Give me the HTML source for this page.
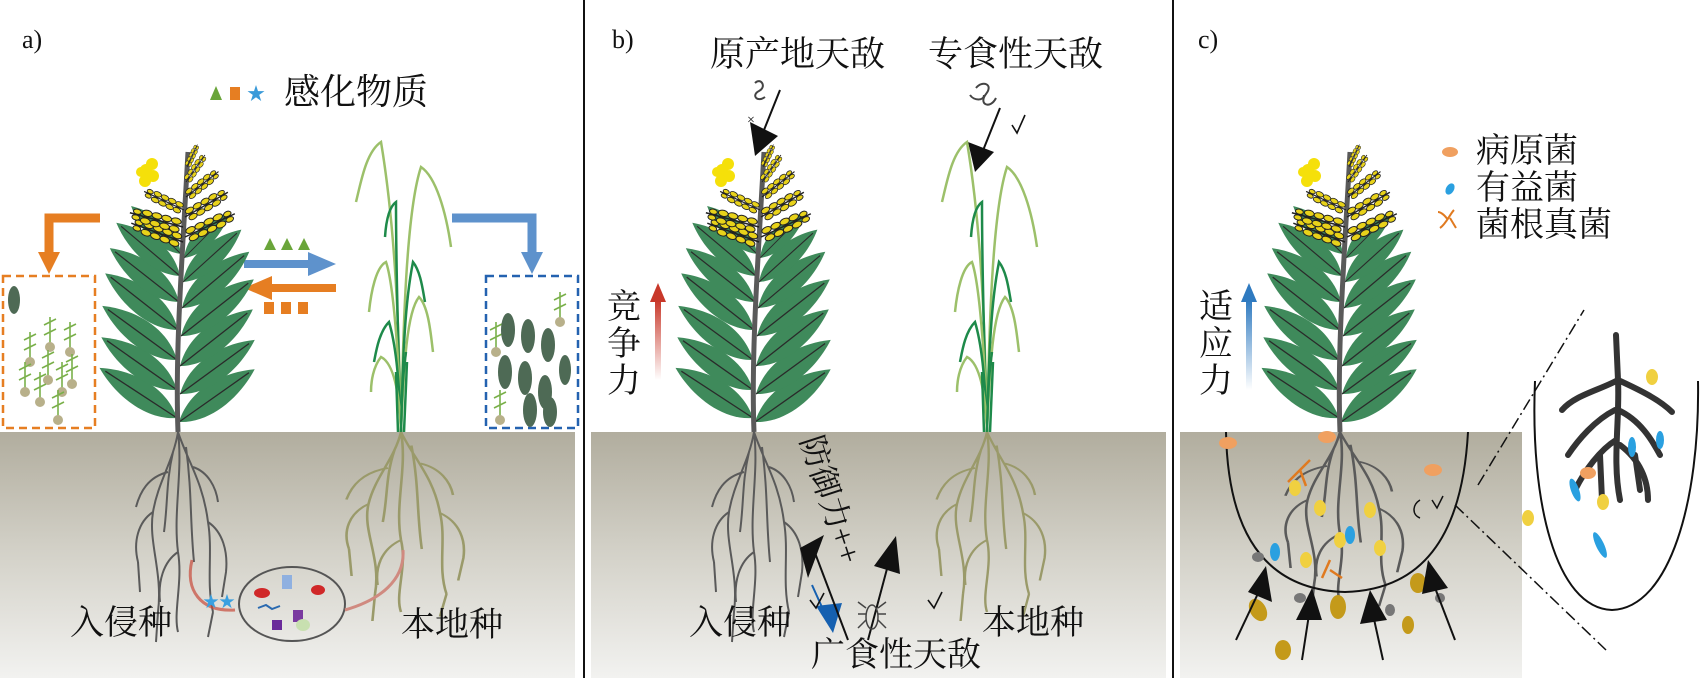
<!DOCTYPE html>
<html><head><meta charset="utf-8"><style>
html,body{margin:0;padding:0;background:#fff}
svg{display:block}
text{font-family:"Liberation Serif","Noto Serif CJK SC","Noto Sans CJK SC",serif;fill:#111}
</style></head><body>
<svg width="1701" height="678" viewBox="0 0 1701 678" xmlns="http://www.w3.org/2000/svg">
<defs>
<linearGradient id="soil" x1="0" y1="0" x2="0" y2="1">
<stop offset="0" stop-color="#b1ad9e"/><stop offset="0.5" stop-color="#d4d2c9"/><stop offset="1" stop-color="#f2f2f0"/>
</linearGradient>
<linearGradient id="red" x1="0" y1="1" x2="0" y2="0"><stop offset="0" stop-color="#fff"/><stop offset="1" stop-color="#c8382a"/></linearGradient>
<linearGradient id="blue" x1="0" y1="1" x2="0" y2="0"><stop offset="0" stop-color="#fff"/><stop offset="1" stop-color="#2f7ac0"/></linearGradient>
<g id="leafR"><path d="M0,0 C12,-30 45,-46 80,-46 C62,-18 30,4 0,0Z" fill="#3f8a5b"/><path d="M0,0 L74,-43" stroke="#2a2a2a" stroke-width="1.3"/></g>
<g id="spike"><path d="M0,0 L-55,0" stroke="#222" stroke-width="1.5"/>
<g fill="#e8d21a" stroke="#222" stroke-width="1"><ellipse cx="-8" cy="-4" rx="5" ry="3"/><ellipse cx="-18" cy="-4" rx="5" ry="3"/><ellipse cx="-28" cy="-4" rx="5" ry="3"/><ellipse cx="-38" cy="-4" rx="5" ry="3"/><ellipse cx="-48" cy="-3" rx="4" ry="2.5"/><ellipse cx="-8" cy="4" rx="5" ry="3"/><ellipse cx="-18" cy="4" rx="5" ry="3"/><ellipse cx="-28" cy="4" rx="5" ry="3"/><ellipse cx="-38" cy="4" rx="5" ry="3"/><ellipse cx="-48" cy="3" rx="4" ry="2.5"/></g></g>
<g id="gold">
<use href="#leafR" transform="translate(1,-10) rotate(-5)"/>
<use href="#leafR" transform="translate(-1,-14) scale(-1,1) rotate(-3)"/>
<use href="#leafR" transform="translate(2,-38) rotate(-6)"/>
<use href="#leafR" transform="translate(-1,-42) scale(-1,1) rotate(-5)"/>
<use href="#leafR" transform="translate(2,-66) rotate(-8)"/>
<use href="#leafR" transform="translate(-1,-72) scale(-1,1) rotate(-6)"/>
<use href="#leafR" transform="translate(3,-96) rotate(-8)"/>
<use href="#leafR" transform="translate(0,-102) scale(-1,1) rotate(-8)"/>
<use href="#leafR" transform="translate(4,-124) rotate(-10) scale(.95)"/>
<use href="#leafR" transform="translate(1,-130) scale(-.95,.95) rotate(-8)"/>
<use href="#leafR" transform="translate(5,-150) rotate(-12) scale(.85)"/>
<use href="#leafR" transform="translate(2,-156) scale(-.9,.9) rotate(-10)"/>
<use href="#leafR" transform="translate(6,-174) rotate(-15) scale(.7)"/>
<use href="#leafR" transform="translate(3,-178) scale(-.75,.75) rotate(-14)"/>
<path d="M0,0 C-3,-80 4,-170 10,-280" stroke="#5a5a5a" stroke-width="5" fill="none"/>
<use href="#spike" transform="translate(5,-190) rotate(20)"/>
<use href="#spike" transform="translate(5,-205) rotate(15)"/>
<use href="#spike" transform="translate(6,-222) rotate(25) scale(.8)"/>
<use href="#spike" transform="translate(7,-195) scale(-1,1) rotate(25)"/>
<use href="#spike" transform="translate(7,-215) scale(-1,1) rotate(30) scale(.9)"/>
<use href="#spike" transform="translate(8,-235) scale(-1,1) rotate(38) scale(.75)"/>
<use href="#spike" transform="translate(8,-250) scale(-1,1) rotate(55) scale(.6)"/>
<use href="#spike" transform="translate(9,-265) scale(-1,1) rotate(65) scale(.45)"/>
<g fill="#f5e00a"><circle cx="-32" cy="-262" r="6"/><circle cx="-26" cy="-268" r="6"/><circle cx="-25" cy="-256" r="6"/><circle cx="-33" cy="-251" r="6"/><circle cx="-37" cy="-260" r="5"/></g>
</g>
<g id="grass" fill="none" stroke-width="2.5">
<path d="M0,0 C-2,-100 -5,-200 -20,-290 C-35,-280 -40,-250 -45,-230" stroke="#9cc06a"/>
<path d="M0,0 C2,-100 5,-220 20,-265 C35,-255 45,-220 50,-185" stroke="#9cc06a"/>
<path d="M0,0 C-3,-90 -5,-170 -5,-230 C-12,-225 -15,-210 -16,-195" stroke="#1e8a4a"/>
<path d="M0,0 C-2,-80 -8,-150 -15,-170 C-25,-165 -30,-140 -32,-120" stroke="#9cc06a"/>
<path d="M0,0 C2,-80 4,-130 12,-170 C20,-160 22,-140 24,-130" stroke="#1e8a4a"/>
<path d="M0,0 C-2,-60 -6,-90 -12,-110 C-22,-100 -25,-80 -27,-70" stroke="#1e8a4a"/>
<path d="M0,0 C3,-70 6,-120 18,-135 C28,-125 30,-95 32,-80" stroke="#9cc06a"/>
<path d="M0,0 C-2,-50 -10,-70 -20,-75 C-28,-65 -30,-50 -30,-40" stroke="#9cc06a"/>
<path d="M0,0 C1,-40 2,-60 5,-80 M-3,0 L-5,-60 M3,0 L6,-70" stroke="#1e8a4a"/>
</g>
<g id="roots" fill="none" stroke-width="2">
<path d="M0,0 C-5,30 -20,50 -25,80 C-30,110 -15,140 -20,180 M0,0 C5,40 -5,80 0,120 C5,150 -5,180 0,200 M0,0 C10,30 25,50 30,90 C35,120 28,150 35,180 M-25,80 C-40,90 -45,110 -40,130 M30,90 C45,100 50,120 48,140 M-10,40 C-30,45 -38,60 -42,75 M15,35 C30,40 38,55 40,70 M0,120 C-15,130 -20,150 -18,170 M-20,180 L-22,210 M35,180 L30,205 M-5,20 C-12,50 -10,70 -14,100 M8,15 C14,60 12,90 16,130 M-40,130 L-38,160 M48,140 L44,165"/>
</g>
<g id="mini"><path d="M0,0 L0,-28 M-6,-20 L6,-26 M-6,-10 L6,-16" stroke="#7ab04a" stroke-width="1.6" fill="none"/><circle cx="0" cy="2" r="5" fill="#b8b08a"/></g>
</defs>

<rect x="0" y="432" width="575" height="246" fill="url(#soil)"/>
<rect x="591" y="432" width="575" height="246" fill="url(#soil)"/>
<rect x="1180" y="432" width="342" height="246" fill="url(#soil)"/>
<line x1="584" y1="0" x2="584" y2="678" stroke="#111" stroke-width="2"/>
<line x1="1173" y1="0" x2="1173" y2="678" stroke="#111" stroke-width="2"/>

<!-- ===== Panel a ===== -->
<text x="22" y="48" font-size="26">a)</text>
<polygon points="210,100 216,86 222,100" fill="#6aa53a"/>
<rect x="230" y="87" width="10" height="13" fill="#e67e22"/>
<text x="247" y="100" font-size="18" style="fill:#3a9ad9">★</text>
<text x="284" y="104" font-size="36">感化物质</text>
<path d="M100,218 L49,218 L49,255" stroke="#e67e22" stroke-width="9" fill="none"/>
<polygon points="38,252 60,252 49,274" fill="#e67e22"/>
<rect x="3" y="276" width="92" height="152" fill="none" stroke="#e67e22" stroke-width="2.5" stroke-dasharray="8,5"/>
<path d="M452,218 L532,218 L532,255" stroke="#5e92cc" stroke-width="9" fill="none"/>
<polygon points="521,252 543,252 532,274" fill="#5e92cc"/>
<rect x="486" y="276" width="92" height="152" fill="none" stroke="#2462b0" stroke-width="2.5" stroke-dasharray="8,5"/>
<g fill="#6aa53a"><polygon points="264,250 270,238 276,250"/><polygon points="281,250 287,238 293,250"/><polygon points="298,250 304,238 310,250"/></g>
<path d="M244,264 L312,264" stroke="#5e92cc" stroke-width="8"/>
<polygon points="308,252 336,264 308,276" fill="#5e92cc"/>
<path d="M270,288 L336,288" stroke="#e67e22" stroke-width="8"/>
<polygon points="272,276 244,288 272,300" fill="#e67e22"/>
<g fill="#e67e22"><rect x="264" y="302" width="10" height="12"/><rect x="281" y="302" width="10" height="12"/><rect x="298" y="302" width="10" height="12"/></g>
<use href="#mini" x="50" y="345"/><use href="#mini" x="70" y="350"/><use href="#mini" x="30" y="360"/><use href="#mini" x="48" y="378"/><use href="#mini" x="62" y="390"/><use href="#mini" x="40" y="400"/><use href="#mini" x="58" y="418"/><use href="#mini" x="25" y="390"/><use href="#mini" x="72" y="382"/>
<use href="#mini" x="560" y="320"/><use href="#mini" x="500" y="418"/><use href="#mini" x="496" y="350"/>
<g fill="#4e6a55"><ellipse cx="14" cy="300" rx="6" ry="14"/>
<ellipse cx="508" cy="330" rx="7" ry="17"/><ellipse cx="528" cy="336" rx="7" ry="17"/><ellipse cx="548" cy="345" rx="7" ry="17"/><ellipse cx="505" cy="372" rx="7" ry="17"/><ellipse cx="525" cy="378" rx="7" ry="17"/><ellipse cx="545" cy="392" rx="7" ry="17"/><ellipse cx="530" cy="410" rx="7" ry="17"/><ellipse cx="550" cy="412" rx="7" ry="15"/><ellipse cx="565" cy="370" rx="6" ry="15"/></g>
<use href="#gold" x="178" y="432"/>
<use href="#grass" x="401" y="432"/>
<use href="#roots" x="178" y="432" stroke="#5a5a5a"/>
<use href="#roots" x="401" y="432" stroke="#9a9a6a" transform="translate(401 432) scale(1.3,0.9) translate(-401 -432)"/>
<ellipse cx="292" cy="604" rx="53" ry="37" fill="none" stroke="#555" stroke-width="2"/>
<ellipse cx="262" cy="593" rx="8" ry="5" fill="#d02828"/><ellipse cx="318" cy="590" rx="7" ry="5" fill="#d02828"/>
<rect x="282" y="575" width="10" height="14" fill="#8fb0e0"/>
<rect x="272" y="620" width="10" height="10" fill="#6a2a9a"/><rect x="293" y="610" width="10" height="12" fill="#7a3aa0"/>
<ellipse cx="303" cy="625" rx="7" ry="6" fill="#c8e0b0"/>
<path d="M258,608 l8,-3 l6,4 l8,-3" stroke="#2a6ab0" stroke-width="2" fill="none"/>
<path d="M192,560 C185,590 200,612 235,610" stroke="#c84a3a" stroke-width="3" fill="none" opacity=".7"/>
<text x="203" y="607" font-size="16" style="fill:#3aa0e0">★★</text>
<path d="M345,610 C380,600 405,580 403,550" stroke="#d08a80" stroke-width="3" fill="none"/>
<text x="70" y="634" font-size="34">入侵种</text>
<text x="401" y="636" font-size="34">本地种</text>

<!-- ===== Panel b ===== -->
<text x="612" y="48" font-size="26">b)</text>
<text x="710" y="66" font-size="35">原产地天敌</text>
<text x="928" y="66" font-size="35">专食性天敌</text>
<path d="M755,83 c6,-6 12,4 4,8 c-8,4 -2,12 6,6" stroke="#444" stroke-width="2" fill="none"/>
<text x="747" y="124" font-size="14">×</text>
<path d="M780,90 L760,140" stroke="#111" stroke-width="2"/>
<polygon points="750,122 778,136 755,156" fill="#111"/>
<path d="M976,88 c6,-8 18,-4 10,6 c-8,10 4,16 10,4 M970,95 c4,6 14,6 14,0" stroke="#444" stroke-width="2" fill="none"/>
<path d="M1000,108 L980,158" stroke="#111" stroke-width="2"/>
<polygon points="968,142 994,152 975,172" fill="#111"/>
<path d="M1012,125 l5,8 l8,-18" stroke="#111" stroke-width="1.6" fill="none"/>
<rect x="655" y="300" width="6" height="80" fill="url(#red)"/>
<polygon points="650,302 658,283 666,302" fill="#c8382a"/>
<text font-size="34" x="607" y="318">竞</text><text font-size="34" x="607" y="355">争</text><text font-size="34" x="607" y="392">力</text>
<use href="#gold" x="754" y="432"/>
<use href="#grass" x="987" y="432"/>
<use href="#roots" x="754" y="432" stroke="#5a5a5a"/>
<use href="#roots" x="987" y="432" stroke="#9a9a6a" transform="translate(987 432) scale(1.2,0.9) translate(-987 -432)"/>
<text font-size="32" transform="translate(800 440) rotate(72)">防御力++</text>
<path d="M812,585 L830,625" stroke="#1560b0" stroke-width="2"/>
<polygon points="833,633 816,606 842,603" fill="#1560b0"/>
<path d="M812,545 L848,640" stroke="#111" stroke-width="2"/>
<polygon points="800,548 824,535 808,578" fill="#111"/>
<path d="M888,565 L868,640" stroke="#111" stroke-width="2"/>
<polygon points="896,536 900,574 874,566" fill="#111"/>
<path d="M810,600 l6,8 l8,-15 M928,600 l6,8 l8,-16" stroke="#111" stroke-width="1.6" fill="none"/>
<ellipse cx="872" cy="617" rx="6" ry="12" fill="none" stroke="#444" stroke-width="1.5"/>
<path d="M866,608 l-8,-6 M878,608 l8,-6 M866,620 l-8,8 M878,620 l8,8 M866,614 h-8 M878,614 h8" stroke="#444" stroke-width="1.5"/>
<text x="689" y="634" font-size="34">入侵种</text>
<text x="982" y="634" font-size="34">本地种</text>
<text x="811" y="666" font-size="34">广食性天敌</text>

<!-- ===== Panel c ===== -->
<text x="1198" y="48" font-size="26">c)</text>
<g fill="#f0a060"><ellipse cx="1450" cy="152" rx="8" ry="5"/></g>
<ellipse cx="1450" cy="189" rx="4" ry="6" fill="#2aa0e0" transform="rotate(30 1450 189)"/>
<path d="M1440,228 c6,-4 10,-14 14,-18 M1448,220 c-4,-6 -8,-8 -10,-8 M1450,218 l6,10" stroke="#e07a20" stroke-width="2" fill="none"/>
<text x="1476" y="162" font-size="34">病原菌</text>
<text x="1476" y="199" font-size="34">有益菌</text>
<text x="1476" y="236" font-size="34">菌根真菌</text>
<rect x="1246" y="300" width="6" height="90" fill="url(#blue)"/>
<polygon points="1241,302 1249,283 1257,302" fill="#2f7ac0"/>
<text font-size="34" x="1199" y="318">适</text><text font-size="34" x="1199" y="355">应</text><text font-size="34" x="1199" y="392">力</text>
<use href="#gold" x="1340" y="432"/>
<use href="#roots" x="1340" y="432" stroke="#5a5a5a" transform="translate(1340 432) scale(1.3,0.85) translate(-1340 -432)"/>
<path d="M1226,432 C1228,540 1270,590 1345,592 C1420,590 1462,540 1468,432" fill="none" stroke="#111" stroke-width="2"/>
<path d="M1535,381 C1530,500 1555,608 1612,610 C1670,608 1700,500 1698,381" fill="none" stroke="#111" stroke-width="2"/>
<path d="M1455,505 L1606,650 M1478,485 L1584,310" stroke="#111" stroke-width="1.5" stroke-dasharray="12,4,2,4" fill="none"/>
<path d="M1420,500 c-8,5 -8,15 0,18 M1432,500 l5,8 l6,-12" stroke="#111" stroke-width="1.5" fill="none"/>
<g stroke="#333" stroke-width="6" fill="none" stroke-linecap="round">
<path d="M1616,335 L1618,380 C1620,420 1612,460 1620,500 M1618,380 C1600,390 1575,395 1562,410 M1618,380 C1640,390 1660,400 1672,412 M1615,410 C1595,420 1578,440 1568,455 M1618,410 C1640,420 1652,440 1660,455 M1616,440 C1600,450 1585,470 1575,490 M1620,445 C1640,460 1648,480 1648,500 M1600,455 L1602,500 M1635,455 L1640,490"/>
</g>
<g fill="#2aa0e0"><ellipse cx="1632" cy="447" rx="4" ry="10"/><ellipse cx="1660" cy="440" rx="4" ry="9"/><ellipse cx="1575" cy="490" rx="4" ry="12" transform="rotate(-20 1575 490)"/><ellipse cx="1600" cy="545" rx="4" ry="14" transform="rotate(-25 1600 545)"/></g>
<g fill="#f0d040"><ellipse cx="1652" cy="377" rx="6" ry="8"/><ellipse cx="1603" cy="502" rx="6" ry="8"/><ellipse cx="1528" cy="518" rx="6" ry="8"/></g>
<ellipse cx="1588" cy="473" rx="8" ry="6" fill="#f0a060"/>
<g fill="#f0a060"><ellipse cx="1228" cy="443" rx="9" ry="6"/><ellipse cx="1327" cy="437" rx="9" ry="6"/><ellipse cx="1433" cy="470" rx="9" ry="6"/></g>
<g fill="#f0d040"><ellipse cx="1295" cy="488" rx="6" ry="8"/><ellipse cx="1320" cy="508" rx="6" ry="8"/><ellipse cx="1370" cy="510" rx="6" ry="8"/><ellipse cx="1340" cy="540" rx="6" ry="8"/><ellipse cx="1380" cy="548" rx="6" ry="8"/><ellipse cx="1306" cy="560" rx="6" ry="8"/></g>
<g fill="#2aa0e0"><ellipse cx="1275" cy="552" rx="5" ry="9"/><ellipse cx="1350" cy="535" rx="5" ry="9"/></g>
<path d="M1300,470 l-12,12 M1300,470 l6,16 M1300,470 l10,-10 M1330,560 l-8,18 M1330,570 l12,8" stroke="#e07a20" stroke-width="2.5" fill="none"/>
<g fill="#c49a1a"><ellipse cx="1258" cy="610" rx="8" ry="12" transform="rotate(-30 1258 610)"/><ellipse cx="1338" cy="607" rx="8" ry="12"/><ellipse cx="1418" cy="583" rx="8" ry="10"/><ellipse cx="1408" cy="625" rx="6" ry="9"/><ellipse cx="1283" cy="650" rx="8" ry="10"/></g>
<g fill="#777"><ellipse cx="1258" cy="557" rx="6" ry="5"/><ellipse cx="1300" cy="598" rx="6" ry="5"/><ellipse cx="1390" cy="610" rx="5" ry="6"/><ellipse cx="1440" cy="598" rx="5" ry="5"/></g>
<g stroke="#111" stroke-width="2">
<path d="M1236,640 L1262,585"/><path d="M1302,660 L1310,608"/><path d="M1383,660 L1372,610"/><path d="M1455,640 L1432,580"/>
</g>
<g fill="#111">
<polygon points="1266,566 1272,602 1248,592"/><polygon points="1312,588 1322,620 1296,620"/><polygon points="1370,590 1387,620 1360,624"/><polygon points="1428,560 1448,588 1422,594"/>
</g>
</svg>
</body></html>
